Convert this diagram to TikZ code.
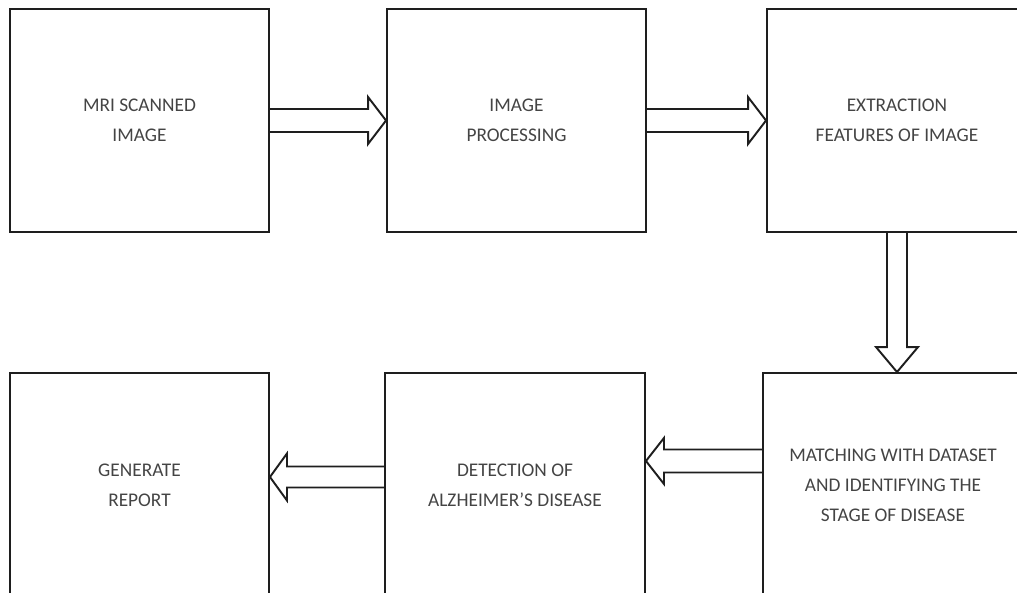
\documentclass[tikz,border=0pt]{standalone}
\usepackage{fontspec}
\setmainfont{Carlito}
\usepackage{tikz}
\usetikzlibrary{positioning,calc}
\definecolor{edge}{HTML}{1E1E1E}
\definecolor{label}{HTML}{444444}

% hollow block arrow: tail, tip, head length (signed), shaft half, head half
\newcommand{\harrow}[5]{%
  \draw[hollow] ($#1+(0,#4)$) -- ($#2+(#3,#4)$) -- ($#2+(#3,#5)$) -- #2
    -- ($#2+(#3,-#5)$) -- ($#2+(#3,-#4)$) -- ($#1+(0,-#4)$);}

\begin{document}
\begin{tikzpicture}[
  every node/.style={align=center},
  stage/.style={
    rectangle, draw=edge, line width=1.1pt, text=label,
    minimum width=5.18cm, minimum height=4.46cm,
    font=\fontsize{11}{17}\selectfont
  },
  hollow/.style={draw=edge, line width=1.1pt, line join=miter},
]
\useasboundingbox (0,0) rectangle (20.34,-11.86);
\clip (0,0) rectangle (20.34,-11.86);

% Top row
\node[stage] (mri)     at (2.79,-2.41)  {MRI SCANNED\\IMAGE};
\node[stage] (proc)    at (10.33,-2.41) {IMAGE\\PROCESSING};
\node[stage, minimum width=5.2cm] (extract) at (17.94,-2.41) {EXTRACTION\\FEATURES OF IMAGE};

% Bottom row
\node[stage, minimum height=4.48cm] (report) at (2.79,-9.70)  {GENERATE\\REPORT};
\node[stage, minimum height=4.48cm, minimum width=5.2cm] (detect) at (10.30,-9.70) {DETECTION OF\\ALZHEIMER’S DISEASE};
\node[stage, minimum height=4.48cm, minimum width=5.2cm] (match)  at (17.86,-9.70) {MATCHING WITH DATASET\\AND IDENTIFYING THE\\STAGE OF DISEASE};

% Top arrows
\harrow{(mri.east)}{(proc.west)}{-0.36}{0.23}{0.47}
\harrow{(proc.east)}{(extract.west)}{-0.36}{0.23}{0.47}

% Right column: extract down to match
\coordinate (downtip) at (extract.south |- match.north);
\draw[hollow] ($(extract.south)+(-0.2,0)$) -- ($(downtip)+(-0.2,0.5)$) -- ($(downtip)+(-0.42,0.5)$)
  -- (downtip) -- ($(downtip)+(0.42,0.5)$) -- ($(downtip)+(0.2,0.5)$) -- ($(extract.south)+(0.2,0)$);

% Bottom arrows (right to left)
\coordinate (mtail) at ($(match.west)+(0,0.48)$);
\coordinate (mtip)  at ($(detect.east)+(0,0.48)$);
\harrow{(mtail)}{(mtip)}{0.36}{0.23}{0.46}
\coordinate (dtail) at ($(detect.west)+(0,0.16)$);
\coordinate (dtip)  at ($(report.east)+(0,0.16)$);
\harrow{(dtail)}{(dtip)}{0.34}{0.21}{0.47}
\end{tikzpicture}
\end{document}
